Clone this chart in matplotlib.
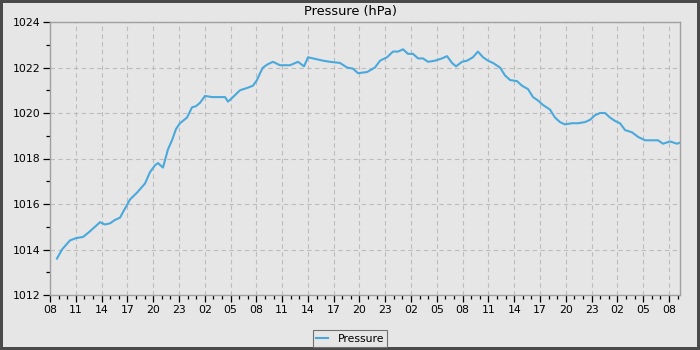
import matplotlib
matplotlib.use("Agg")
import matplotlib.pyplot as plt
from matplotlib.ticker import MultipleLocator, FuncFormatter

# hours since 08:00 of the first day
hours = [0.81, 1.40, 1.86, 2.33, 3.02, 3.84, 4.65, 5.23, 5.82, 6.40, 6.98, 7.56, 8.14, 8.72,
         9.31, 10.12, 11.05, 11.63, 12.21, 12.56, 13.14, 13.72, 14.19, 14.66, 15.12, 15.94,
         16.52, 16.98, 17.45, 18.03, 18.84, 19.77, 20.36, 20.71, 21.29, 22.10, 22.92, 23.61,
         24.08, 24.43, 24.78, 25.36, 25.94, 26.75, 27.92, 28.85, 29.55, 30.01, 30.59, 31.76,
         32.57, 33.73, 34.55, 35.24, 35.83, 36.87, 37.80, 38.39, 39.20, 39.90, 40.48, 41.06,
         41.64, 42.22, 42.81, 43.39, 43.97, 44.78, 45.60, 46.18, 46.76, 47.23, 47.92, 48.51,
         49.20, 49.77, 50.37, 50.95, 51.53, 52.34, 52.93, 53.51, 54.32, 54.90, 55.60, 56.18,
         56.76, 57.35, 58.16, 58.74, 59.32, 59.90, 60.72, 61.42, 62.23, 62.81, 63.39, 63.98,
         64.56, 65.14, 65.72, 66.30, 66.89, 67.70, 68.40, 69.21, 70.03, 70.72, 71.30, 72.12,
         72.93, 73.28]
pressure = [1013.6, 1014.0, 1014.2, 1014.4, 1014.5, 1014.55, 1014.8, 1015.0, 1015.2, 1015.1,
            1015.15, 1015.3, 1015.4, 1015.8, 1016.2, 1016.5, 1016.9, 1017.4, 1017.7, 1017.8,
            1017.6, 1018.4, 1018.8, 1019.3, 1019.55, 1019.8, 1020.25, 1020.3, 1020.45, 1020.75,
            1020.7, 1020.7, 1020.7, 1020.5, 1020.7, 1021.0, 1021.1, 1021.2, 1021.45, 1021.75,
            1022.0, 1022.15, 1022.25, 1022.1, 1022.1, 1022.25, 1022.05, 1022.45, 1022.4, 1022.3,
            1022.25, 1022.2, 1022.0, 1021.95, 1021.75, 1021.8, 1022.0, 1022.3, 1022.45, 1022.7,
            1022.7, 1022.8, 1022.6, 1022.6, 1022.4, 1022.4, 1022.25, 1022.3, 1022.4, 1022.5,
            1022.2, 1022.05, 1022.25, 1022.3, 1022.45, 1022.7, 1022.45, 1022.3, 1022.2, 1022.0,
            1021.65, 1021.45, 1021.4, 1021.2, 1021.05, 1020.7, 1020.55, 1020.35, 1020.15, 1019.8,
            1019.6, 1019.5, 1019.55, 1019.55, 1019.6, 1019.7, 1019.9, 1020.0, 1020.0, 1019.8,
            1019.65, 1019.55, 1019.25, 1019.15, 1018.95, 1018.8, 1018.8, 1018.8, 1018.65, 1018.75,
            1018.65, 1018.7]
start_hour = 8
x_max = 73.28
y_min, y_max = 1012, 1024
title = "Pressure (hPa)"
series_name = "Pressure"

bg = "#e6e6e6"
line_color = "#4aa9dc"

fig = plt.figure(figsize=(7, 3.5), dpi=100)
fig.patch.set_facecolor(bg)
fig.patch.set_edgecolor("#4a4a4a")
fig.patch.set_linewidth(3.0)

ax = fig.add_axes([50 / 700, 55 / 350, 630 / 700, 273 / 350])
ax.set_facecolor(bg)
ax.plot(hours, pressure, color=line_color, linewidth=1.5, label=series_name)

ax.set_xlim(0, x_max)
ax.set_ylim(y_min, y_max)
ax.xaxis.set_major_locator(MultipleLocator(3))
ax.xaxis.set_minor_locator(MultipleLocator(1))
ax.yaxis.set_major_locator(MultipleLocator(2))
ax.yaxis.set_minor_locator(MultipleLocator(1))
ax.xaxis.set_major_formatter(FuncFormatter(lambda v, p: "%02d" % ((start_hour + int(round(v))) % 24)))
ax.yaxis.set_major_formatter(FuncFormatter(lambda v, p: "%d" % v))

ax.grid(True, which="major", color="#bdbdbd", linestyle=(0, (4, 3)), linewidth=0.8)
for s in ax.spines.values():
    s.set_color("#a0a0a0")
    s.set_linewidth(1.0)
ax.tick_params(which="major", length=5, width=0.9, color="#000000", labelsize=7.8, pad=2)
ax.tick_params(which="minor", length=3, width=0.9, color="#000000")

fig.text(0.5, (350 - 11) / 350, title, fontsize=9.3, ha="center", va="center")

leg = fig.legend(loc="center", bbox_to_anchor=(0.5, (350 - 338.5) / 350),
                 fontsize=7.8, frameon=True, fancybox=False, handlelength=1.1,
                 borderpad=0.3, handletextpad=0.9, borderaxespad=0)
leg.get_frame().set_facecolor(bg)
leg.get_frame().set_edgecolor("#707070")
leg.get_frame().set_linewidth(0.8)
leg.get_frame().set_alpha(1)

fig.savefig("out.png", dpi=100, facecolor=fig.get_facecolor(), edgecolor=fig.get_edgecolor())
